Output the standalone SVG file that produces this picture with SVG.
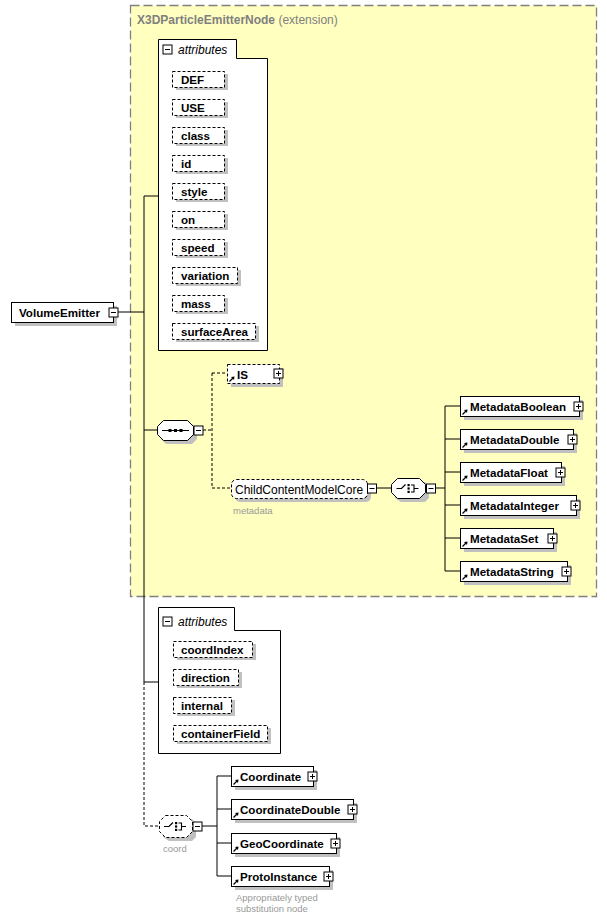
<svg xmlns="http://www.w3.org/2000/svg" xmlns:xlink="http://www.w3.org/1999/xlink" width="607" height="921" viewBox="0 0 607 921">
<style>
.t{font-family:"Liberation Sans",Arial,sans-serif;}
.b{font-family:"Liberation Sans",Arial,sans-serif;font-weight:bold;font-size:11.6px;fill:#000;}
.r{font-family:"Liberation Sans",Arial,sans-serif;font-size:12px;fill:#000;}
.g{font-family:"Liberation Sans",Arial,sans-serif;font-size:9.5px;fill:#999;}
.it{font-family:"Liberation Sans",Arial,sans-serif;font-style:italic;font-size:12px;fill:#000;}
.sh{fill:#c0c0c0;stroke:none;}
.el{fill:#fff;stroke:#000;stroke-width:1;}
.at{fill:#fff;stroke:#000;stroke-width:1;stroke-dasharray:3,2;}
.ln{fill:none;stroke:#000;stroke-width:1;}
.dl{fill:none;stroke:#000;stroke-width:1;stroke-dasharray:3,2;}
.pm{fill:#fff;stroke:#000;stroke-width:1;}
</style>
<defs>
<g id="lnk"><path d="M0,5.5 L3.5,2" stroke="#000" stroke-width="1.2" fill="none"/><polygon points="5,0.5 1.5,1 4.5,4" fill="#000"/></g>
<g id="minus"><rect x="-4.5" y="-4.5" width="9" height="9" class="pm"/><path d="M-2.5,0 H2.5" stroke="#000"/></g>
<g id="plus"><rect x="-4.5" y="-4.5" width="9" height="9" class="pm"/><path d="M-2.5,0 H2.5 M0,-2.5 V2.5" stroke="#000"/></g>
<g id="choiceIcon"><path d="M-12,0 H-7 L-3,-4" fill="none" stroke="#000" stroke-width="1.2"/><rect x="-1" y="-4.5" width="2.2" height="2.2" fill="#000"/><rect x="-1" y="-1.1" width="2.2" height="2.2" fill="#000"/><rect x="-1" y="2.3" width="2.2" height="2.2" fill="#000"/><path d="M2.5,-3.5 H5.5 V3.5 H2.5 M5.5,0 H10" fill="none" stroke="#000" stroke-width="1.1"/></g>
</defs>

<g id="extension">
<rect x="130.5" y="5.5" width="466" height="591" fill="#ffffc0" stroke="#808080" stroke-width="1.3" stroke-dasharray="9,4"/>
<text x="137" y="24" class="t" font-size="12px" fill="#808080"><tspan font-weight="bold">X3DParticleEmitterNode</tspan> (extension)</text>
</g>

<g id="connectors">
<path class="ln" d="M118,312 H144 M144,196 V682 M144,196 H158 M144,430 H157 M144,682 H158"/>
<path class="dl" d="M144,682 V826 H159"/>
<path class="dl" d="M203,430 H212 M212,373 V488 M212,373 H227 M212,488 H231"/>
<path class="ln" d="M377,488 H391 M436,488 H445 M445,406 V571 M445,406 H460 M445,439 H460 M445,472 H460 M445,505 H460 M445,538 H460 M445,571 H460"/>
<path class="ln" d="M202,826 H217 M217,776 V876 M217,776 H231 M217,809 H231 M217,843 H231 M217,876 H231"/>
</g>

<g id="VolumeEmitter">
<rect x="15" y="306" width="102" height="20" class="sh"/>
<rect x="11.5" y="302.5" width="102" height="20" class="el"/>
<text x="19" y="316.5" class="b">VolumeEmitter</text>
<use xlink:href="#minus" x="113.5" y="312.5"/>
</g>

<g id="attributes1">
<path d="M158.5,39.5 H236.5 V58.5 H267.5 V350.5 H158.5 Z" fill="#fff" stroke="#000"/>
<use xlink:href="#minus" x="167.5" y="49.5"/>
<text x="178" y="54" class="it">attributes</text>
<g id="attr-DEF"><rect x="176" y="74" width="52" height="16" class="sh"/><rect x="172.5" y="71.5" width="52" height="16" class="at"/><text x="181" y="83.5" class="b">DEF</text></g>
<g id="attr-USE"><rect x="176" y="102" width="52" height="16" class="sh"/><rect x="172.5" y="99.5" width="52" height="16" class="at"/><text x="181" y="111.5" class="b">USE</text></g>
<g id="attr-class"><rect x="176" y="130" width="52" height="16" class="sh"/><rect x="172.5" y="127.5" width="52" height="16" class="at"/><text x="181" y="139.5" class="b">class</text></g>
<g id="attr-id"><rect x="176" y="158" width="52" height="16" class="sh"/><rect x="172.5" y="155.5" width="52" height="16" class="at"/><text x="181" y="167.5" class="b">id</text></g>
<g id="attr-style"><rect x="176" y="186" width="52" height="16" class="sh"/><rect x="172.5" y="183.5" width="52" height="16" class="at"/><text x="181" y="195.5" class="b">style</text></g>
<g id="attr-on"><rect x="176" y="214" width="52" height="16" class="sh"/><rect x="172.5" y="211.5" width="52" height="16" class="at"/><text x="181" y="223.5" class="b">on</text></g>
<g id="attr-speed"><rect x="176" y="242" width="52" height="16" class="sh"/><rect x="172.5" y="239.5" width="52" height="16" class="at"/><text x="181" y="251.5" class="b">speed</text></g>
<g id="attr-variation"><rect x="176" y="270" width="65" height="16" class="sh"/><rect x="172.5" y="267.5" width="65" height="16" class="at"/><text x="181" y="279.5" class="b">variation</text></g>
<g id="attr-mass"><rect x="176" y="298" width="52" height="16" class="sh"/><rect x="172.5" y="295.5" width="52" height="16" class="at"/><text x="181" y="307.5" class="b">mass</text></g>
<g id="attr-surfaceArea"><rect x="176" y="326" width="83" height="16" class="sh"/><rect x="172.5" y="323.5" width="83" height="16" class="at"/><text x="181" y="335.5" class="b">surfaceArea</text></g>
</g>

<g id="sequence">
<path d="M166,424 H192 L197,429 V439 L192,444 H166 L161,439 V429 Z" class="sh"/>
<path d="M163.5,420.5 H187.5 L193.5,426.5 V434.5 L187.5,440.5 H163.5 L157.5,434.5 V426.5 Z" class="el"/>
<path d="M162,430.5 H189" stroke="#000" stroke-width="1"/>
<rect x="168.5" y="429" width="3" height="3" fill="#000"/><rect x="174" y="429" width="3" height="3" fill="#000"/><rect x="179.5" y="429" width="3" height="3" fill="#000"/>
<use xlink:href="#minus" x="198.5" y="430.5"/>
</g>

<g id="IS">
<rect x="231" y="368" width="52" height="19" class="sh"/>
<rect x="227.5" y="364.5" width="52" height="19" class="at"/>
<use xlink:href="#lnk" x="229.5" y="376"/>
<text x="237" y="378.5" class="b">IS</text>
<use xlink:href="#plus" x="278.5" y="373.5"/>
</g>

<g id="ChildContentModelCore">
<rect x="235" y="483" width="136" height="19" rx="5" class="sh"/>
<rect x="231.5" y="479.5" width="136" height="19" rx="5" class="at"/>
<text x="235" y="493.5" class="r">ChildContentModelCore</text>
<use xlink:href="#minus" x="372" y="488.5"/>
<text x="233" y="514" class="g">metadata</text>
</g>

<g id="choice-metadata">
<path d="M401,482 H425 L429,486 V498 L425,502 H401 L395,498 V486 Z" class="sh"/>
<path d="M397.5,478.5 H419.5 L425.5,484.5 V492.5 L419.5,498.5 H397.5 L391.5,492.5 V484.5 Z" class="el"/>
<use xlink:href="#choiceIcon" x="408.5" y="488.5"/>
<use xlink:href="#minus" x="431" y="488.5"/>
</g>

<g id="MetadataBoolean"><rect x="464" y="400" width="119" height="20" class="sh"/><rect x="460.5" y="396.5" width="119" height="20" class="el"/><use xlink:href="#lnk" x="462.5" y="409"/><text x="470" y="410.5" class="b">MetadataBoolean</text><use xlink:href="#plus" x="578.5" y="406.5"/></g>
<g id="MetadataDouble"><rect x="464" y="433" width="113" height="20" class="sh"/><rect x="460.5" y="429.5" width="113" height="20" class="el"/><use xlink:href="#lnk" x="462.5" y="442"/><text x="470" y="443.5" class="b">MetadataDouble</text><use xlink:href="#plus" x="572.5" y="439.5"/></g>
<g id="MetadataFloat"><rect x="464" y="466" width="101" height="20" class="sh"/><rect x="460.5" y="462.5" width="101" height="20" class="el"/><use xlink:href="#lnk" x="462.5" y="475"/><text x="470" y="476.5" class="b">MetadataFloat</text><use xlink:href="#plus" x="560.5" y="472.5"/></g>
<g id="MetadataInteger"><rect x="464" y="499" width="116" height="20" class="sh"/><rect x="460.5" y="495.5" width="116" height="20" class="el"/><use xlink:href="#lnk" x="462.5" y="508"/><text x="470" y="509.5" class="b">MetadataInteger</text><use xlink:href="#plus" x="575.5" y="505.5"/></g>
<g id="MetadataSet"><rect x="464" y="532" width="93" height="20" class="sh"/><rect x="460.5" y="528.5" width="93" height="20" class="el"/><use xlink:href="#lnk" x="462.5" y="541"/><text x="470" y="542.5" class="b">MetadataSet</text><use xlink:href="#plus" x="552.5" y="538.5"/></g>
<g id="MetadataString"><rect x="464" y="565" width="107" height="20" class="sh"/><rect x="460.5" y="561.5" width="107" height="20" class="el"/><use xlink:href="#lnk" x="462.5" y="574"/><text x="470" y="575.5" class="b">MetadataString</text><use xlink:href="#plus" x="566.5" y="571.5"/></g>

<g id="attributes2">
<path d="M158.5,607.5 H234.5 V630.5 H280.5 V753.5 H158.5 Z" fill="#fff" stroke="#000"/>
<use xlink:href="#minus" x="167.5" y="621.5"/>
<text x="178" y="626" class="it">attributes</text>
<g id="attr-coordIndex"><rect x="177" y="644" width="79" height="16" class="sh"/><rect x="173.5" y="641.5" width="79" height="16" class="at"/><text x="181" y="653.5" class="b">coordIndex</text></g>
<g id="attr-direction"><rect x="177" y="672" width="65" height="16" class="sh"/><rect x="173.5" y="669.5" width="65" height="16" class="at"/><text x="181" y="681.5" class="b">direction</text></g>
<g id="attr-internal"><rect x="177" y="700" width="58" height="16" class="sh"/><rect x="173.5" y="697.5" width="58" height="16" class="at"/><text x="181" y="709.5" class="b">internal</text></g>
<g id="attr-containerField"><rect x="177" y="728" width="94" height="16" class="sh"/><rect x="173.5" y="725.5" width="94" height="16" class="at"/><text x="181" y="737.5" class="b">containerField</text></g>
</g>

<g id="choice-coord">
<path d="M169,819 H192 L196,823 V837 L192,841 H169 L163,837 V823 Z" class="sh"/>
<path d="M165.5,815.5 H186.5 L192.5,821.5 V831.5 L186.5,837.5 H165.5 L159.5,831.5 V821.5 Z" class="at"/>
<use xlink:href="#choiceIcon" x="176" y="826.5"/>
<use xlink:href="#minus" x="197.5" y="826.5"/>
<text x="163" y="852" class="g">coord</text>
</g>

<g id="Coordinate"><rect x="235" y="770" width="82" height="20" class="sh"/><rect x="231.5" y="766.5" width="82" height="20" class="el"/><use xlink:href="#lnk" x="233.5" y="779"/><text x="240" y="780.5" class="b">Coordinate</text><use xlink:href="#plus" x="312.5" y="776.5"/></g>
<g id="CoordinateDouble"><rect x="235" y="803" width="122" height="20" class="sh"/><rect x="231.5" y="799.5" width="122" height="20" class="el"/><use xlink:href="#lnk" x="233.5" y="812"/><text x="240" y="813.5" class="b">CoordinateDouble</text><use xlink:href="#plus" x="352.5" y="809.5"/></g>
<g id="GeoCoordinate"><rect x="235" y="837" width="105" height="20" class="sh"/><rect x="231.5" y="833.5" width="105" height="20" class="el"/><use xlink:href="#lnk" x="233.5" y="846"/><text x="240" y="847.5" class="b">GeoCoordinate</text><use xlink:href="#plus" x="335.5" y="843.5"/></g>
<g id="ProtoInstance"><rect x="235" y="870" width="98" height="20" class="sh"/><rect x="231.5" y="866.5" width="98" height="20" class="el"/><use xlink:href="#lnk" x="233.5" y="879"/><text x="240" y="880.5" class="b">ProtoInstance</text><use xlink:href="#plus" x="328.5" y="876.5"/></g>
<text x="236" y="901" class="g">Appropriately typed</text>
<text x="236" y="912" class="g">substitution node</text>
</svg>
